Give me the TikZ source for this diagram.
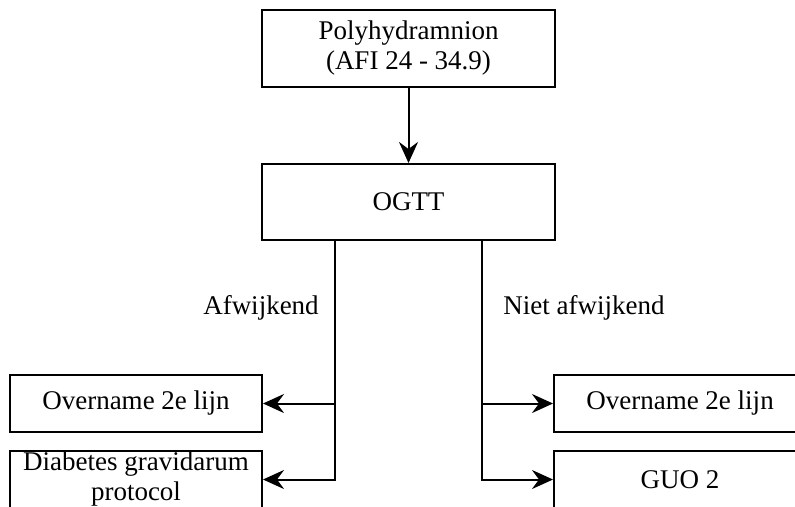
\documentclass[tikz,border=0pt]{standalone}
\usepackage{fontspec}
\setmainfont{Liberation Serif}
\usetikzlibrary{arrows.meta,positioning}

\begin{document}
\begin{tikzpicture}[->,>={Stealth[length=21pt,width=19pt,inset=7pt]},x=1pt,y=1pt,
                    line width=2pt,node distance=153.5pt]
\tikzset{font=\fontsize{27pt}{30pt}\selectfont}
\tikzset{box/.style={rectangle,draw=black,text=black,inner sep=0pt,align=center,
                     minimum width=293pt,minimum height=77pt}}
\tikzset{sidebox/.style={box,minimum width=252pt,minimum height=57pt}}

\useasboundingbox (0,0) rectangle (795,-506);

        % top of the chart
        \node[box]                        (poly)  at (408.5,-48.5)    {Polyhydramnion\\(AFI 24 - 34.9)};
        \node[box,minimum height=76pt]    (ogtt)  [below of=poly]     {OGTT};

        % left branch
        \node[sidebox]                    (dr1)   at (136,-403.5)     {Overname 2e lijn};
        \node[sidebox,node distance=76pt] (dr2)   [below of=dr1]      {Diabetes gravidarum\\protocol};

        % right branch
        \node[sidebox]                    (nr1)   at (680,-403.5)     {Overname 2e lijn};
        \node[sidebox,node distance=76pt] (nr2)   [below of=nr1]      {GUO 2};

        \node (afw)  at (261,-308) {Afwijkend};
        \node (nafw) at (584,-308) {Niet afwijkend};

        \coordinate[xshift=-73.5pt] (jl) at (ogtt.south);
        \coordinate[xshift=73.5pt]  (jr) at (ogtt.south);

        \path[->]
        (poly) edge node {} (ogtt)
        ; %end path

        \draw (jl) |- (dr1);
        \draw (jl) |- (dr2);
        \draw (jr) |- (nr1);
        \draw (jr) |- (nr2);

\end{tikzpicture}
\end{document}
